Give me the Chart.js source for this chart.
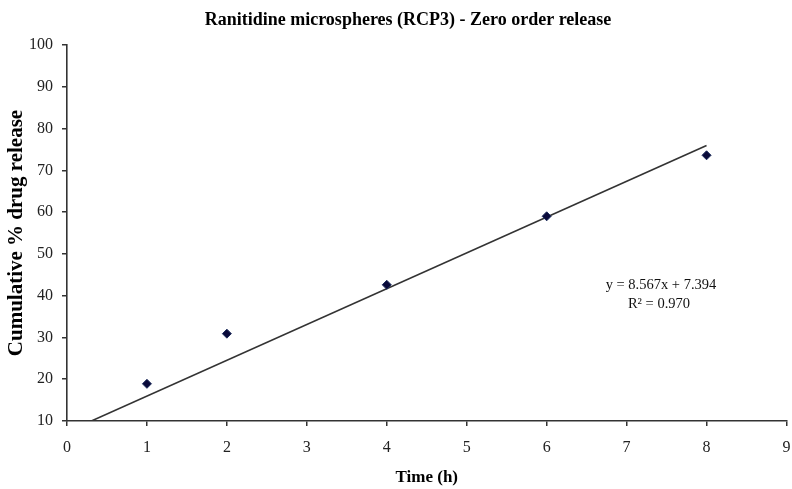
<!DOCTYPE html>
<html>
<head>
<meta charset="utf-8">
<script src="https://cdn.jsdelivr.net/npm/chart.js@4/dist/chart.umd.min.js"></script>
<style>
  html, body { margin: 0; padding: 0; background: #ffffff; }
  #wrap { width: 792px; height: 489px; }
</style>
</head>
<body>
<div id="wrap"><canvas id="c" width="792" height="489"></canvas></div>
<script>
// ---- data ----
const timeHours = [1, 2, 4, 6, 8];
const cumulativeRelease = [18.9, 30.9, 42.6, 59.0, 73.6];
const trendSlope = 8.567;
const trendIntercept = 7.394;
const trendX = [0, 8];
const xTicks = [0, 1, 2, 3, 4, 5, 6, 7, 8, 9];
const yTicks = [10, 20, 30, 40, 50, 60, 70, 80, 90, 100];
const titleText = 'Ranitidine microspheres (RCP3) - Zero order release';
const xTitle = 'Time (h)';
const yTitle = 'Cumulative % drug release';
const equationLines = ['y = 8.567x + 7.394', 'R\u00b2 = 0.970'];

const pointData = timeHours.map((x, i) => ({ x: x, y: cumulativeRelease[i] }));
const trendData = trendX.map(x => ({ x: x, y: trendSlope * x + trendIntercept }));

const serif = "'Liberation Serif', 'Times New Roman', serif";

const textPlugin = {
  id: 'texts',
  afterDraw(chart) {
    const ctx = chart.ctx;
    const xs = chart.scales.x, ys = chart.scales.y;
    ctx.save();
    // chart title
    ctx.fillStyle = '#000';
    ctx.font = 'bold 18px ' + serif;
    ctx.textAlign = 'center';
    ctx.textBaseline = 'middle';
    ctx.fillText(titleText, 408, 20);
    // trendline equation
    ctx.fillStyle = '#111';
    ctx.font = '14.5px ' + serif;
    const cx = xs.getPixelForValue(7.43);
    const y0 = ys.getPixelForValue(42.4);
    ctx.fillText(equationLines[0], cx, y0);
    ctx.fillText(equationLines[1], cx - 2, y0 + 19);
    ctx.restore();
  }
};

new Chart(document.getElementById('c'), {
  type: 'scatter',
  data: {
    datasets: [
      {
        label: 'Trend',
        data: trendData,
        showLine: true,
        borderColor: '#333333',
        borderWidth: 1.6,
        pointRadius: 0,
        fill: false,
        order: 2
      },
      {
        label: 'RCP3',
        data: pointData,
        pointStyle: 'rectRot',
        pointRadius: 4.5,
        backgroundColor: '#0a0a3a',
        borderColor: '#1a2a5a',
        borderWidth: 1,
        order: 1
      }
    ]
  },
  options: {
    responsive: false,
    devicePixelRatio: 1,
    animation: false,
    layout: { padding: { left: 0, right: 5, top: 45, bottom: 0 } },
    plugins: {
      legend: { display: false },
      tooltip: { enabled: false },
      title: { display: false }
    },
    scales: {
      x: {
        type: 'linear',
        min: 0,
        max: 9,
        afterFit(scale) {
          scale.height = 68;
          scale.paddingLeft = 0;
          scale.paddingRight = 0;
        },
        afterBuildTicks(scale) { scale.ticks = xTicks.map(v => ({ value: v })); },
        ticks: {
          color: '#222',
          font: { family: serif, size: 16 },
          padding: 12
        },
        grid: {
          drawOnChartArea: false,
          drawTicks: true,
          tickLength: 5,
          color: '#333',
          lineWidth: 1.5
        },
        border: { display: true, color: '#333', width: 1.6 },
        title: {
          display: true,
          text: xTitle,
          color: '#000',
          font: { family: serif, size: 17, weight: 'bold', lineHeight: 1.2 },
          padding: { top: 0, bottom: 1 }
        }
      },
      y: {
        type: 'linear',
        min: 10,
        max: 100,
        afterFit(scale) {
          scale.width = 67;
          scale.paddingTop = 0;
          scale.paddingBottom = 0;
        },
        afterBuildTicks(scale) { scale.ticks = yTicks.map(v => ({ value: v })); },
        ticks: {
          color: '#222',
          font: { family: serif, size: 16 },
          padding: 9
        },
        grid: {
          drawOnChartArea: false,
          drawTicks: true,
          tickLength: 5,
          color: '#333',
          lineWidth: 1.5
        },
        border: { display: true, color: '#333', width: 1.6 },
        title: {
          display: true,
          text: yTitle,
          color: '#000',
          font: { family: serif, size: 21, weight: 'bold', lineHeight: 1.2 },
          padding: { top: 4, bottom: 0 }
        }
      }
    }
  },
  plugins: [textPlugin]
});
</script>
</body>
</html>
